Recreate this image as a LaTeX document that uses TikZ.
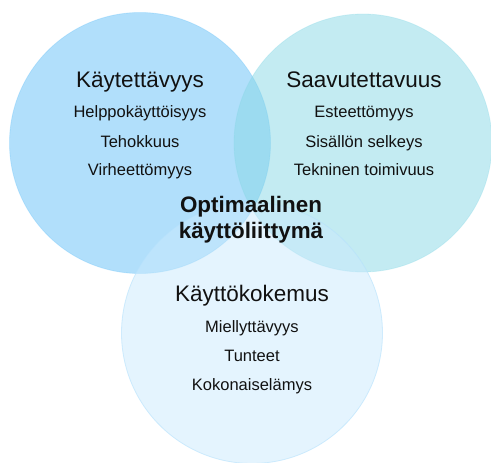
\documentclass[tikz,border=0pt]{standalone}
\usepackage{fontspec}
\setmainfont{Liberation Sans}
\definecolor{cleft}{RGB}{99,191,247}
\definecolor{cright}{RGB}{135,215,229}
\definecolor{cbottom}{RGB}{201,233,253}
\definecolor{txt}{RGB}{17,17,17}
\tikzset{
  venn/.style={circle, inner sep=0pt, fill opacity=0.5, draw opacity=0.3, line width=0.8pt},
  title/.style={anchor=base, text=txt, font=\fontsize{22.5}{27}\selectfont, inner sep=0pt},
  item/.style={anchor=base, text=txt, font=\fontsize{16.5}{20}\selectfont, inner sep=0pt},
  center/.style={anchor=base, text=txt, font=\fontsize{22.4}{27}\selectfont\bfseries, inner sep=0pt}
}
\begin{document}
\begin{tikzpicture}[x=1pt,y=-1pt]
\useasboundingbox (0,0) rectangle (491,463);
\begin{scope}
\clip (0,0) rectangle (491,463);
\node[venn, fill=cleft, draw=cleft, minimum size=261pt] (L) at (140,143) {};
\node[venn, fill=cright, draw=cright, minimum size=258pt] (R) at (363,143) {};
\node[venn, fill=cbottom, draw=cbottom!80!cleft, draw opacity=0.6, minimum size=261pt] (B) at (252,333) {};
\end{scope}
% left
\node[title] (t1) at (140,87.3) {Käytettävyys};
\node[item] (a1) at (140,117.7) {Helppokäyttöisyys};
\node[item] (a2) at (140,147) {Tehokkuus};
\node[item] (a3) at (140,175.7) {Virheettömyys};
% right
\node[title] (t2) at (364,87.3) {Saavutettavuus};
\node[item] (b1) at (364,117.7) {Esteettömyys};
\node[item] (b2) at (364,147) {Sisällön selkeys};
\node[item] (b3) at (364,175.7) {Tekninen toimivuus};
% centre
\node[center] (c1) at (251,212) {Optimaalinen};
\node[center] (c2) at (251,238) {käyttöliittymä};
% bottom
\node[title] (t3) at (252,301.7) {Käyttökokemus};
\node[item] (d1) at (252,332.5) {Miellyttävyys};
\node[item] (d2) at (252,361.8) {Tunteet};
\node[item] (d3) at (252,390.5) {Kokonaiselämys};
\end{tikzpicture}
\end{document}
